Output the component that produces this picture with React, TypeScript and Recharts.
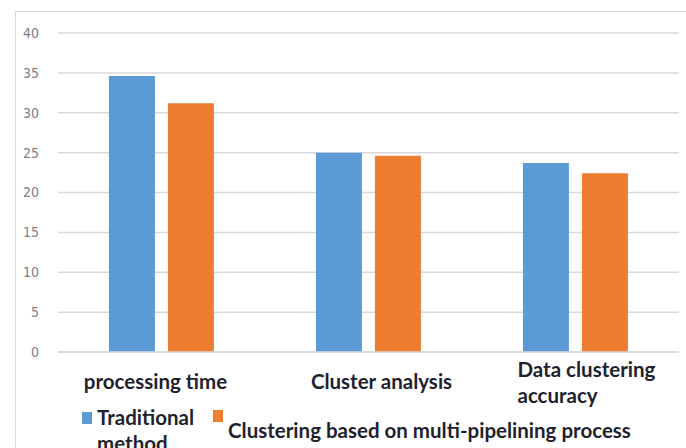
import { BarChart, Bar, XAxis, YAxis, CartesianGrid } from "recharts";

const categories = ["processing time", "Cluster analysis", "Data clustering accuracy"];
const traditional = [34.6, 25.0, 23.7];
const multiPipeline = [31.2, 24.6, 22.4];
const yTicks = [0, 5, 10, 15, 20, 25, 30, 35, 40];
const seriesNames = ["Traditional method", "Clustering based on multi-pipelining process"];

const BLUE = "#5B9BD5";
const ORANGE = "#ED7D31";
const FONT = "Lato, 'Open Sans', sans-serif";
const TEXT = "#1f1f2e";

const data = categories.map((c, i) => ({
  name: c,
  traditional: traditional[i],
  multi: multiPipeline[i],
}));

// per-category label placement (lines, x offset, anchor, first line y)
const tickLayout: Record<string, { lines: string[]; dx: number; anchor: string; dy: number }> = {
  "processing time": { lines: ["processing time"], dx: -6, anchor: "middle", dy: 29 },
  "Cluster analysis": { lines: ["Cluster analysis"], dx: 13, anchor: "middle", dy: 29 },
  "Data clustering accuracy": { lines: ["Data clustering", "accuracy"], dx: -58, anchor: "start", dy: 17 },
};

function CategoryTick(props: any) {
  const { x, y, payload } = props;
  const l = tickLayout[payload.value];
  return (
    <text
      x={x + l.dx}
      y={y + l.dy}
      textAnchor={l.anchor}
      fontFamily={FONT}
      fontWeight={700}
      fontSize={20.5}
      fill={TEXT}
    >
      {l.lines.map((line, i) => (
        <tspan key={i} x={x + l.dx} dy={i === 0 ? 0 : 26}>
          {line}
        </tspan>
      ))}
    </text>
  );
}

function ChartLegend() {
  const textStyle = {
    position: "absolute" as const,
    fontFamily: FONT,
    fontWeight: 700,
    fontSize: 20.5,
    color: TEXT,
    whiteSpace: "nowrap" as const,
    lineHeight: "26px",
  };
  const [w1, w2] = seriesNames[0].split(" ");
  return (
    <div style={{ position: "absolute", left: 0, top: 400, width: 686, height: 48 }}>
      <div style={{ position: "absolute", left: 82, top: 12, width: 10, height: 12, background: BLUE }} />
      <div style={{ ...textStyle, left: 97, top: 4 }}>
        {w1}
        <br />
        {w2}
      </div>
      <div style={{ position: "absolute", left: 213, top: 10, width: 10, height: 12, background: ORANGE }} />
      <div style={{ ...textStyle, left: 228, top: 17 }}>{seriesNames[1]}</div>
    </div>
  );
}

export default function App() {
  return (
    <div style={{ position: "absolute", left: 0, top: 0, width: 686, height: 448, overflow: "hidden", background: "#fff" }}>
      <div
        style={{
          position: "absolute",
          left: 15,
          top: 11,
          width: 700,
          height: 460,
          border: "1.5px solid #d9d9d9",
        }}
      />
      <BarChart
        width={686}
        height={448}
        data={data}
        margin={{ top: 33, right: 7, bottom: 66, left: 15 }}
        barCategoryGap="24.6%"
        barGap={13}
      >
        <CartesianGrid vertical={false} stroke="#d9d9d9" strokeWidth={1.5} />
        <XAxis
          dataKey="name"
          axisLine={{ stroke: "#d9d9d9", strokeWidth: 1.5 }}
          tickLine={false}
          tick={<CategoryTick />}
          interval={0}
          height={30}
        />
        <YAxis
          width={43}
          domain={[0, 40]}
          ticks={yTicks}
          axisLine={false}
          tickLine={false}
          tickMargin={13}
          tick={{ fontSize: 14, fill: "#808080", fontFamily: "'DejaVu Sans Condensed', 'Liberation Sans Narrow', sans-serif" }}
        />
        <Bar dataKey="traditional" name={seriesNames[0]} fill={BLUE} isAnimationActive={false} />
        <Bar dataKey="multi" name={seriesNames[1]} fill={ORANGE} isAnimationActive={false} />
      </BarChart>
      <ChartLegend />
    </div>
  );
}
